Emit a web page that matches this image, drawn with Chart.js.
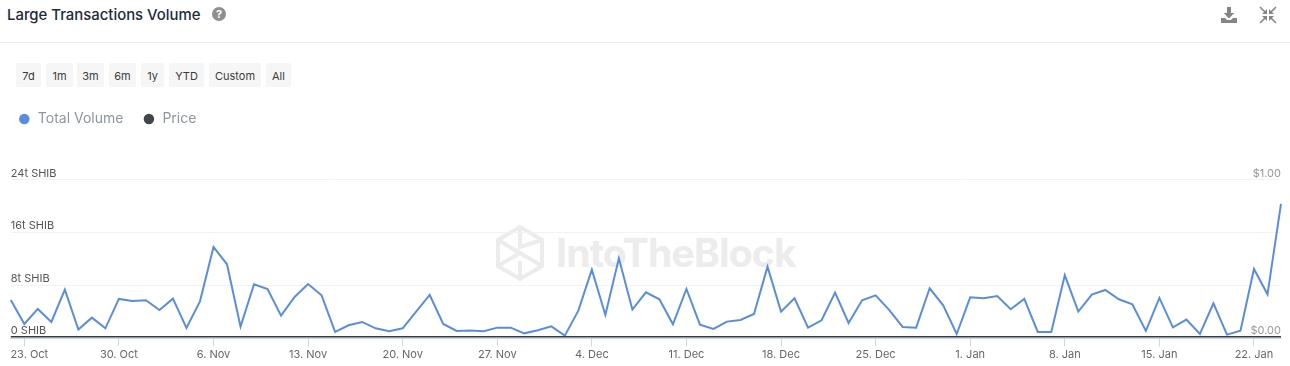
<!DOCTYPE html>
<html>
<head>
<meta charset="utf-8">
<title>Large Transactions Volume</title>
<script src="https://cdn.jsdelivr.net/npm/chart.js@4"></script>
<style>
  html, body { margin: 0; padding: 0; background: #fff; }
  body { width: 1290px; height: 366px; position: relative; overflow: hidden; font-family: Inter, "Noto Sans", sans-serif; }
  #title { position: absolute; left: 7px; top: 6px; font-size: 14.9px; line-height: 18px; font-weight: 500; color: #1d2b3a; white-space: nowrap; }
  #help { position: absolute; left: 212px; top: 7px; width: 14px; height: 14px; border-radius: 50%; background: #8f8f8f; color: #fff; font-size: 11px; line-height: 14px; font-weight: 700; text-align: center; }
  #rule { position: absolute; left: 0; right: 0; top: 42px; height: 1px; background: #ededed; }
  #ranges { position: absolute; left: 16px; top: 63px; display: flex; gap: 5px; }
  #ranges div { height: 24px; line-height: 26px; text-align: center; background: #f6f6f6; border-radius: 2px; font-size: 11px; color: #3c3c3c; }
  #ranges div:nth-child(1), #ranges div:nth-child(8) { width: 25px; }
  #ranges div:nth-child(2), #ranges div:nth-child(3), #ranges div:nth-child(4) { width: 27px; }
  #ranges div:nth-child(3) { margin-left: -1px; }
  #ranges div:nth-child(5) { width: 23px; }
  #ranges div:nth-child(6) { width: 35px; }
  #ranges div:nth-child(7) { width: 52px; }
  .icon { position: absolute; top: 6px; }
  #mark { position: absolute; left: 496px; top: 225px; }
  #markText { position: absolute; left: 556px; top: 229px; font-size: 39px; line-height: 48px; font-weight: 700; letter-spacing: -0.8px; color: #ececec; white-space: nowrap; }
  #wrap { position: absolute; left: 0; top: 93px; width: 1290px; height: 273px; }
</style>
</head>
<body>
<div id="title">Large Transactions Volume</div>
<div id="help">?</div>
<svg class="icon" style="left:1220px" width="18" height="18" viewBox="0 0 18 18" fill="#858585">
  <path d="M7 1h4v6h3.2L9 12.4 3.8 7H7z"/><path d="M1 12h4l2 2h4l2-2h4v5H1z"/>
</svg>
<svg class="icon" style="left:1259px" width="18" height="18" viewBox="0 0 18 18" fill="#858585" stroke="#858585">
  <path d="M1 1l5 5M17 1l-5 5M1 17l5-5M17 17l-5-5" stroke-width="1.6"/>
  <path d="M3 8h5V3zM15 8h-5V3zM3 10h5v5zM15 10h-5v5z" stroke="none"/>
</svg>
<div id="rule"></div>
<div id="ranges"></div>
<svg id="mark" width="48" height="56" viewBox="0 0 48 56" fill="none" stroke="#ececec" stroke-width="4">
  <path d="M24 2L46 15V41L24 54L2 41V15z"/>
  <path d="M24 2V22L46 15M2 15L24 28L46 41M2 41L24 28M24 54V36"/>
</svg>
<div id="markText">IntoTheBlock</div>
<div id="wrap"><canvas id="chart" width="1290" height="273"></canvas></div>

<script>
var rangeButtons = ['7d', '1m', '3m', '6m', '1y', 'YTD', 'Custom', 'All'];

var days = [
  '22. Oct','23. Oct','24. Oct','25. Oct','26. Oct','27. Oct','28. Oct','29. Oct','30. Oct','31. Oct',
  '1. Nov','2. Nov','3. Nov','4. Nov','5. Nov','6. Nov','7. Nov','8. Nov','9. Nov','10. Nov',
  '11. Nov','12. Nov','13. Nov','14. Nov','15. Nov','16. Nov','17. Nov','18. Nov','19. Nov','20. Nov',
  '21. Nov','22. Nov','23. Nov','24. Nov','25. Nov','26. Nov','27. Nov','28. Nov','29. Nov','30. Nov',
  '1. Dec','2. Dec','3. Dec','4. Dec','5. Dec','6. Dec','7. Dec','8. Dec','9. Dec','10. Dec',
  '11. Dec','12. Dec','13. Dec','14. Dec','15. Dec','16. Dec','17. Dec','18. Dec','19. Dec','20. Dec',
  '21. Dec','22. Dec','23. Dec','24. Dec','25. Dec','26. Dec','27. Dec','28. Dec','29. Dec','30. Dec',
  '31. Dec','1. Jan','2. Jan','3. Jan','4. Jan','5. Jan','6. Jan','7. Jan','8. Jan','9. Jan',
  '10. Jan','11. Jan','12. Jan','13. Jan','14. Jan','15. Jan','16. Jan','17. Jan','18. Jan','19. Jan',
  '20. Jan','21. Jan','22. Jan','23. Jan','24. Jan'
];

// trillions of SHIB
var totalVolume = [
  5.79, 2.16, 4.43, 2.47, 7.35, 1.31, 3.12, 1.51, 5.94, 5.64,
  5.74, 4.28, 5.99, 1.56, 5.58, 13.79, 11.17, 1.76, 8.15, 7.45,
  3.42, 6.24, 8.2, 6.49, 0.96, 1.96, 2.47, 1.51, 1.06, 1.51,
  4.03, 6.54, 2.16, 1.11, 1.16, 1.06, 1.61, 1.61, 0.75, 1.21,
  1.81, 0.4, 4.18, 10.36, 3.52, 12.08, 4.33, 6.94, 5.89, 2.11,
  7.45, 2.06, 1.41, 2.52, 2.77, 3.67, 10.82, 4.03, 6.04, 1.61,
  2.72, 6.89, 2.31, 5.74, 6.49, 4.28, 1.71, 1.61, 7.55, 4.98,
  0.65, 6.19, 6.04, 6.39, 4.38, 5.94, 0.96, 0.96, 9.51, 4.03,
  6.59, 7.3, 5.89, 5.13, 1.11, 6.09, 1.66, 2.82, 0.65, 5.28,
  0.55, 1.16, 10.47, 6.64, 20.28
];

// the price line is switched off in the picture, only its legend entry shows
var priceValues = [];

var volumeTicks = [0, 8, 16, 24];
var priceTicks = [0, 1];

rangeButtons.forEach(function(name) {
  var b = document.createElement('div');
  b.textContent = name;
  document.getElementById('ranges').appendChild(b);
});

// legend keeps the space above the plot, and the dark zero line
var layoutFixes = {
  id: 'layoutFixes',
  beforeInit(chart) {
    var fit = chart.legend.fit;
    chart.legend.fit = function() {
      fit.call(this);
      this.height = 86.3;
    };
  },
  afterLayout(chart) {
    chart.legend.left = 10.8 - 12;
    // first date label is pushed right so it starts at the plot edge
    var items = chart.scales.x.getLabelItems();
    if (items.length) items[0].options.translation[0] += 5;
    // top and bottom value labels sit a pixel closer to the middle
    ['y', 'y1'].forEach(function(id) {
      var labels = chart.scales[id].getLabelItems();
      labels[0].options.translation[1] -= 1;
      labels[labels.length - 1].options.translation[1] += 1;
    });
  },
  afterDatasetsDraw(chart) {
    var a = chart.chartArea, c = chart.ctx;
    c.save();
    c.strokeStyle = '#333a40';
    c.lineWidth = 1.5;
    c.beginPath();
    c.moveTo(a.left, a.bottom - 1.5);
    c.lineTo(a.right, a.bottom - 1.5);
    c.stroke();
    c.restore();
  }
};

new Chart('chart', {
  type: 'line',
  plugins: [layoutFixes],
  data: {
    labels: days,
    datasets: [
      {
        label: 'Total Volume',
        data: totalVolume,
        yAxisID: 'y',
        borderColor: '#5a8dde',
        backgroundColor: '#5a8dde',
        borderWidth: 2,
        pointRadius: 0,
        pointStyle: 'circle',
        tension: 0,
      },
      {
        label: 'Price',
        data: priceValues,
        yAxisID: 'y1',
        borderColor: '#41454c',
        backgroundColor: '#41454c',
        borderWidth: 2,
        pointRadius: 0,
        pointStyle: 'circle',
      },
    ]
  },
  options: {
    responsive: false,
    animation: false,
    layout: { padding: { left: 10.8, right: 9 } },
    plugins: {
      tooltip: { enabled: false },
      legend: {
        position: 'top',
        align: 'start',
        onClick: null,
        labels: {
          usePointStyle: true,
          boxWidth: 13,
          boxHeight: 6,
          padding: 19,
          color: '#8b96a1',
          font: { family: 'Inter', size: 14 },
        },
      },
    },
    scales: {
      x: {
        offset: false,
        afterFit(s) { s.height = 27.7; },
        afterBuildTicks(s) {
          s.ticks = s.ticks.filter(function(t) { return (t.value - 1) % 7 === 0; });
        },
        grid: { drawOnChartArea: false, color: '#ccd6eb', tickLength: 8 },
        border: { color: '#ccd6eb' },
        ticks: {
          autoSkip: false,
          maxRotation: 0,
          padding: 2,
          color: '#666',
          font: { family: 'Inter', size: 11 },
        },
      },
      y: {
        position: 'left',
        min: 0,
        max: 24,
        afterBuildTicks(s) {
          s.ticks = volumeTicks.map(function(v) { return { value: v }; });
        },
        grid: { color: '#f2f2f2', drawTicks: false },
        border: { display: false },
        ticks: {
          mirror: true,
          padding: 0,
          labelOffset: -7,
          color: '#555',
          font: { family: 'Inter', size: 11 },
          callback(v) { return v === 0 ? '0 SHIB' : v + 't SHIB'; },
        },
      },
      y1: {
        position: 'right',
        min: 0,
        max: 1,
        afterBuildTicks(s) {
          s.ticks = priceTicks.map(function(v) { return { value: v }; });
        },
        grid: { display: false, drawTicks: false },
        border: { display: false },
        ticks: {
          mirror: true,
          padding: 0,
          labelOffset: -7,
          color: '#999',
          font: { family: 'Inter', size: 11 },
          callback(v) { return '$' + v.toFixed(2); },
        },
      },
    },
  }
});
</script>
</body>
</html>
